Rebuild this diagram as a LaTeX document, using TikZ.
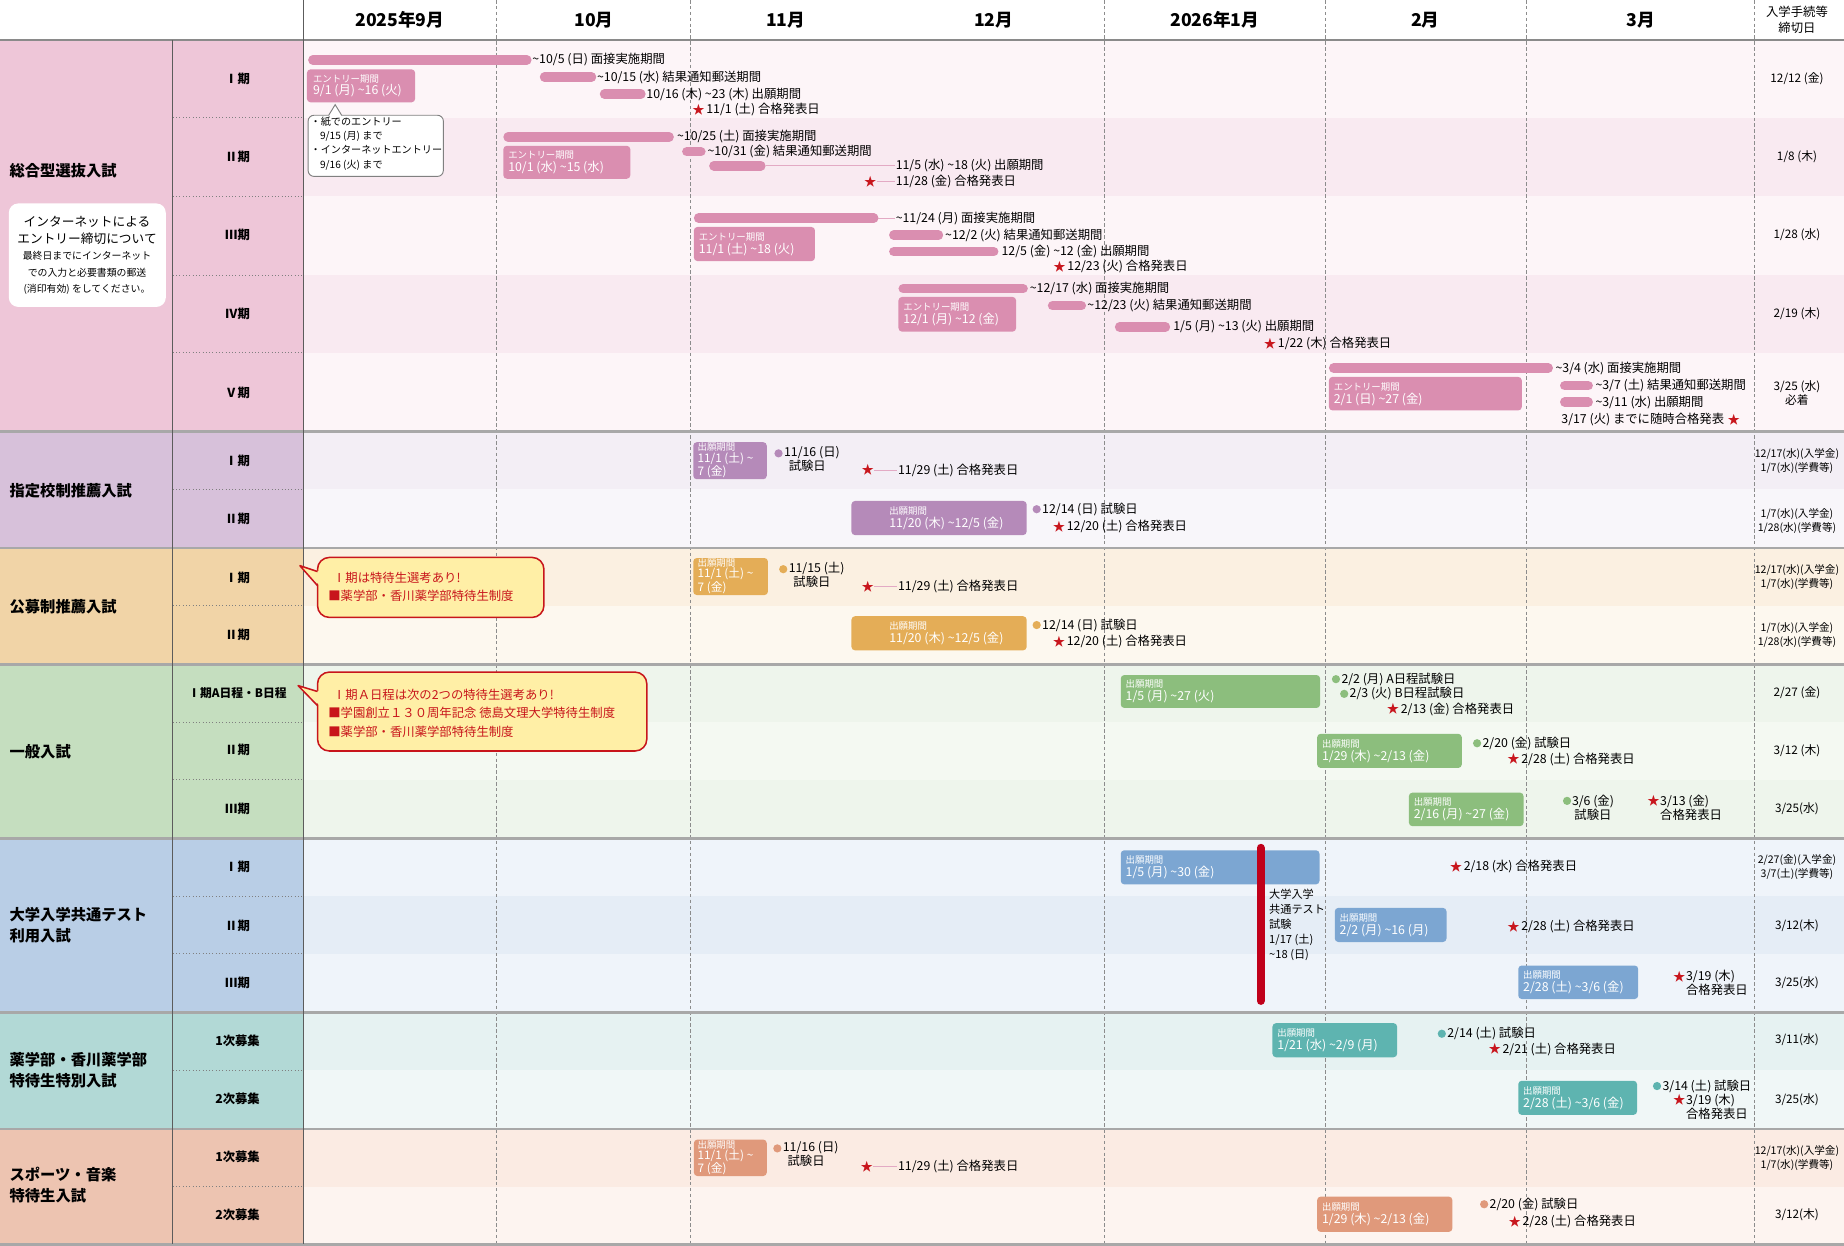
\documentclass[tikz,border=0pt]{standalone}
\usepackage{fontspec}
\setmainfont{Noto Sans CJK JP}
\usetikzlibrary{positioning}

\definecolor{hdgray}{HTML}{8A8A8A}
\definecolor{grpgray}{HTML}{A8A8A8}
\definecolor{vgray}{HTML}{5C5C5C}
\definecolor{dashgray}{HTML}{8C8C8C}
\definecolor{stred}{HTML}{C8161D}
\definecolor{examred}{HTML}{C0001A}
\definecolor{callfill}{HTML}{FFEFA6}
\definecolor{callred}{HTML}{C8151B}
\definecolor{pinkcell}{HTML}{EEC6D8}
\definecolor{pinkbar}{HTML}{DA8EB0}
\definecolor{pinkA}{HTML}{FDF5F8}
\definecolor{pinkB}{HTML}{F9EAF1}
\definecolor{purcell}{HTML}{D7C1DA}
\definecolor{purbar}{HTML}{B58AB9}
\definecolor{purA}{HTML}{F3EEF5}
\definecolor{purB}{HTML}{F8F6FA}
\definecolor{orgcell}{HTML}{F1D4A7}
\definecolor{orgbar}{HTML}{E4AD57}
\definecolor{orgA}{HTML}{FBF0E1}
\definecolor{orgB}{HTML}{FDF8EF}
\definecolor{grncell}{HTML}{C5DEBF}
\definecolor{grnbar}{HTML}{8CBE7D}
\definecolor{grnA}{HTML}{EEF5EC}
\definecolor{grnB}{HTML}{F4F9F2}
\definecolor{blucell}{HTML}{B9CEE6}
\definecolor{blubar}{HTML}{7CA6D2}
\definecolor{bluA}{HTML}{EFF4FA}
\definecolor{bluB}{HTML}{E5EDF6}
\definecolor{tealcell}{HTML}{B2D9D6}
\definecolor{tealbar}{HTML}{5EB4B0}
\definecolor{tealA}{HTML}{E6F2F2}
\definecolor{tealB}{HTML}{F0F7F7}
\definecolor{salcell}{HTML}{EDC4B1}
\definecolor{salbar}{HTML}{E0997B}
\definecolor{salA}{HTML}{FBEBE3}
\definecolor{salB}{HTML}{FDF4F0}

\tikzset{
	lbl/.style={anchor=west, inner sep=0.5pt, font=\fontsize{10.5}{12}\selectfont},
	ddl/.style={align=center, inner sep=0pt, font=\fontsize{10}{12}\selectfont},
	ddl2/.style={align=center, inner sep=0pt, font=\fontsize{9}{12}\selectfont},
	prd/.style={inner sep=0pt, font=\bfseries\fontsize{10.5}{12}\selectfont},
	cat/.style={anchor=west, align=left, inner sep=0pt, font=\bfseries\fontsize{13}{18}\selectfont},
	mon/.style={inner sep=0pt, font=\bfseries\fontsize{15}{17}\selectfont},
	pbar/.style={line width=8pt, line cap=round},
	ebox/.style={rounded corners=3pt},
	btxt/.style={anchor=west, align=left, inner sep=0pt, text=white, font=\fontsize{10.5}{11}\selectfont},
	stxt/.style={anchor=west, align=left, inner sep=0pt, text=white, font=\fontsize{10}{9.5}\selectfont},
	stmark/.style={inner sep=0pt, text=stred, font=\fontsize{10.5}{10}\selectfont},
	conn/.style={draw=pinkbar!75, line width=0.7pt},
	grp/.style={line width=2.5pt, draw=grpgray},
	mdash/.style={draw=dashgray, line width=0.6pt, dash pattern=on 3pt off 2pt},
	pdot/.style={draw=gray, line width=0.8pt, dotted},
	call/.style={draw=callred, line width=1.3pt, fill=callfill, rounded corners=10pt},
	calltxt/.style={anchor=west, inner sep=0pt, text=callred, font=\fontsize{10.5}{12}\selectfont},
}
\newcommand{\bhead}[1]{{\fontsize{8}{9}\selectfont #1}}
\newcommand{\tld}{\textasciitilde}

\begin{document}
\begin{tikzpicture}[x=1pt,y=-1pt]
	\useasboundingbox (0,0) rectangle (1568,1059);
	\fill[white] (0,0) rectangle (1568,1059);

	% row backgrounds
	\foreach \ya/\yb/\col in {34/100/pinkA,100/167/pinkB,167/234/pinkA,234/300/pinkB,300/367/pinkA,
		367/416/purA,416/466/purB,466/515/orgA,515/565/orgB,565/614/grnA,614/663/grnB,663/713/grnA,
		713/762/bluA,762/811/bluB,811/861/bluA,861/910/tealA,910/960/tealB,960/1009/salA,1009/1058/salB}
		\fill[\col] (258,\ya) rectangle (1568,\yb);
	\foreach \ya/\yb/\col in {34/367/pinkcell,367/466/purcell,466/565/orgcell,565/713/grncell,
		713/861/blucell,861/960/tealcell,960/1058/salcell}
		\fill[\col] (0,\ya) rectangle (258,\yb);

	% grid
	\foreach \y in {100,167,234,300,416,515,614,663,762,811,910,1009}
		\draw[pdot] (147,\y) -- (258,\y);
	\foreach \x in {422,587,939,1127,1298,1492}
		\draw[mdash] (\x,0) -- (\x,1058);
	\foreach \y in {367,466,565,713,861,960,1058}
		\draw[grp] (0,\y) -- (1568,\y);
	\draw[line width=2pt, hdgray] (0,34) -- (1568,34);
	\draw[vgray, line width=0.8pt] (258,0) -- (258,1058);
	\draw[vgray, line width=0.8pt] (147,34) -- (147,1058);

	% header
	\node[mon] (m9) at (340,17) {2025年9月};
	\node[mon] (m10) at (505,17) {10月};
	\node[mon] (m11) at (668,17) {11月};
	\node[mon] (m12) at (845,17) {12月};
	\node[mon] (m1) at (1033,17) {2026年1月};
	\node[mon] (m2) at (1212,17) {2月};
	\node[mon] (m3) at (1395,17) {3月};
	\node[ddl, font=\fontsize{10.5}{14}\selectfont] (mend) at (1528,17) {入学手続等\\締切日};

	% categories
	\node[cat] (c1) at (8,145) {総合型選抜入試};
	\node[cat] (c2) at (8,417) {指定校制推薦入試};
	\node[cat] (c3) at (8,516) {公募制推薦入試};
	\node[cat] (c4) at (8,639) {一般入試};
	\node[cat] (c5) at (8,787) {大学入学共通テスト\\利用入試};
	\node[cat] (c6) at (8,910) {薬学部・香川薬学部\\特待生特別入試};
	\node[cat] (c7) at (8,1008) {スポーツ・音楽\\特待生入試};

	\fill[white, rounded corners=8pt] (7.5,173) rectangle (141,261);
	\node[align=center, inner sep=0pt, font=\fontsize{10.8}{15}\selectfont] (net) at (74,196) {インターネットによる\\エントリー締切について};
	\node[align=center, inner sep=0pt, font=\fontsize{8.4}{14}\selectfont] (netb) at (74,232) {最終日までにインターネット\\での入力と必要書類の郵送\\(消印有効) をしてください。};

	% periods
	\node[prd] (p11) at (202,67) {Ⅰ期};
	\node[prd] (p12) at (202,133) {Ⅱ期};
	\node[prd] (p13) at (202,200) {Ⅲ期};
	\node[prd] (p14) at (202,267) {Ⅳ期};
	\node[prd] (p15) at (202,334) {Ⅴ期};
	\node[prd] (p21) at (202,392) {Ⅰ期};
	\node[prd] (p22) at (202,441) {Ⅱ期};
	\node[prd] (p31) at (202,491) {Ⅰ期};
	\node[prd] (p32) at (202,540) {Ⅱ期};
	\node[prd, font=\bfseries\fontsize{10}{12}\selectfont] (p41) at (202,589) {Ⅰ期A日程・B日程};
	\node[prd] (p42) at (202,638) {Ⅱ期};
	\node[prd] (p43) at (202,688) {Ⅲ期};
	\node[prd] (p51) at (202,737) {Ⅰ期};
	\node[prd] (p52) at (202,787) {Ⅱ期};
	\node[prd] (p53) at (202,836) {Ⅲ期};
	\node[prd] (p61) at (202,885) {1次募集};
	\node[prd] (p62) at (202,934) {2次募集};
	\node[prd] (p71) at (202,984) {1次募集};
	\node[prd] (p72) at (202,1033) {2次募集};

	% 総合型 I期
	\draw[pbar, pinkbar] (266,51) -- (448,51);
	\node[lbl] (s1a) at (452,51) {\tld 10/5 (日) 面接実施期間};
	\fill[ebox, pinkbar] (261,59) rectangle (353,87);
	\node[btxt] (s1e) at (266,73) {\bhead{エントリー期間}\\9/1 (月) \tld 16 (火)};
	\draw[pbar, pinkbar] (463,65.5) -- (503,65.5);
	\node[lbl] (s1b) at (507,65.5) {\tld 10/15 (水) 結果通知郵送期間};
	\draw[pbar, pinkbar] (514,80) -- (545,80);
	\node[lbl] (s1c) at (549,80) {10/16 (木) \tld 23 (木) 出願期間};
	\node[stmark] (s1s) at (594,93) {★};
	\node[lbl, right=0.5pt of s1s] (s1t) {11/1 (土) 合格発表日};
	\draw[gray, line width=0.8pt, fill=white, rounded corners=5pt] (262,98) rectangle (377,150);
	\fill[white] (279.5,99.2) -- (285,89) -- (290.5,99.2) -- cycle;
	\draw[gray, line width=0.8pt] (279.5,98) -- (285,89) -- (290.5,98);
	\node[anchor=north west, align=left, inner sep=0pt, font=\fontsize{8.6}{12}\selectfont] (s1n) at (264,99.5)
		{・紙でのエントリー\\\hspace*{8pt}9/15 (月) まで\\・インターネットエントリー\\\hspace*{8pt}9/16 (火) まで};
	\node[ddl] (s1d) at (1528,67) {12/12 (金)};

	% 総合型 II期
	\draw[pbar, pinkbar] (432,116.5) -- (569,116.5);
	\node[lbl] (s2a) at (575,116.5) {\tld 10/25 (土) 面接実施期間};
	\fill[ebox, pinkbar] (428,124) rectangle (536,152);
	\node[btxt] (s2e) at (432,138) {\bhead{エントリー期間}\\10/1 (水) \tld 15 (水)};
	\draw[pbar, pinkbar] (584,129) -- (596,129);
	\node[lbl] (s2b) at (601,129) {\tld 10/31 (金) 結果通知郵送期間};
	\draw[pbar, pinkbar] (607,141) -- (647,141);
	\node[lbl] (s2c) at (761,141) {11/5 (水) \tld 18 (火) 出願期間};
	\draw[conn] (651,141) -- (s2c.west);
	\node[stmark] (s2s) at (740,154.5) {★};
	\node[lbl] (s2t) at (761,154.5) {11/28 (金) 合格発表日};
	\draw[conn] (s2s.east) -- (s2t.west);
	\node[ddl] (s2d) at (1528,133) {1/8 (木)};

	% 総合型 III期
	\draw[pbar, pinkbar] (594,185.5) -- (743,185.5);
	\node[lbl] (s3a) at (761,185.5) {\tld 11/24 (月) 面接実施期間};
	\draw[conn] (747,185.5) -- (s3a.west);
	\fill[ebox, pinkbar] (590,193) rectangle (693,222);
	\node[btxt] (s3e) at (594,207.5) {\bhead{エントリー期間}\\11/1 (土) \tld 18 (火)};
	\draw[pbar, pinkbar] (760,200) -- (798,200);
	\node[lbl] (s3b) at (803,200) {\tld 12/2 (火) 結果通知郵送期間};
	\draw[pbar, pinkbar] (760,214) -- (845,214);
	\node[lbl] (s3c) at (851,214) {12/5 (金) \tld 12 (金) 出願期間};
	\node[stmark] (s3s) at (901,227) {★};
	\node[lbl, right=0.5pt of s3s] (s3t) {12/23 (火) 合格発表日};
	\node[ddl] (s3d) at (1528,200) {1/28 (水)};

	% 総合型 IV期
	\draw[pbar, pinkbar] (768,245.5) -- (870,245.5);
	\node[lbl] (s4a) at (875,245.5) {\tld 12/17 (水) 面接実施期間};
	\fill[ebox, pinkbar] (764,252.5) rectangle (864,282);
	\node[btxt] (s4e) at (768,267) {\bhead{エントリー期間}\\12/1 (月) \tld 12 (金)};
	\draw[pbar, pinkbar] (895,260) -- (919.5,260);
	\node[lbl] (s4b) at (924,260) {\tld 12/23 (火) 結果通知郵送期間};
	\draw[pbar, pinkbar] (952,278) -- (991,278);
	\node[lbl] (s4c) at (997,278) {1/5 (月) \tld 13 (火) 出願期間};
	\node[stmark] (s4s) at (1080,292) {★};
	\node[lbl, right=0.5pt of s4s] (s4t) {1/22 (木) 合格発表日};
	\node[ddl] (s4d) at (1528,267) {2/19 (木)};

	% 総合型 V期
	\draw[pbar, pinkbar] (1134,313) -- (1316.5,313);
	\node[lbl] (s5a) at (1322,313) {\tld 3/4 (水) 面接実施期間};
	\fill[ebox, pinkbar] (1130,320.5) rectangle (1294,349);
	\node[btxt] (s5e) at (1134,335) {\bhead{エントリー期間}\\2/1 (日) \tld 27 (金)};
	\draw[pbar, pinkbar] (1330.5,328) -- (1350.5,328);
	\node[lbl] (s5b) at (1356,328) {\tld 3/7 (土) 結果通知郵送期間};
	\draw[pbar, pinkbar] (1330.5,342) -- (1350.5,342);
	\node[lbl] (s5c) at (1356,342) {\tld 3/11 (水) 出願期間};
	\node[lbl] (s5t) at (1327,357) {3/17 (火) までに随時合格発表};
	\node[stmark, right=2pt of s5t] (s5s) {★};
	\node[ddl] (s5d) at (1528,334) {3/25 (水)\\必着};

	% 指定校制 I期
	\fill[ebox, purbar] (589.5,376) rectangle (652,407.5);
	\node[stxt] (k1e) at (593,391.5) {\bhead{出願期間}\\11/1 (土) \tld\\7 (金)};
	\fill[purbar] (662,385.5) circle (3.5pt);
	\node[lbl, align=left, anchor=north west] (k1a) at (666,379) {11/16 (日)\\\hspace*{4pt}試験日};
	\node[stmark] (k1s) at (738,399.7) {★};
	\node[lbl] (k1t) at (763,399.7) {11/29 (土) 合格発表日};
	\draw[conn] (k1s.east) -- (k1t.west);
	\node[ddl2] (k1d) at (1528,392) {12/17(水)(入学金)\\1/7(水)(学費等)};

	% 指定校制 II期
	\fill[ebox, purbar] (724,426) rectangle (873,455);
	\node[btxt] (k2e) at (756,440.5) {\bhead{出願期間}\\11/20 (木) \tld 12/5 (金)};
	\fill[purbar] (881.5,433) circle (3.5pt);
	\node[lbl] (k2a) at (885.5,433) {12/14 (日) 試験日};
	\node[stmark] (k2s) at (900.5,448) {★};
	\node[lbl, right=0.5pt of k2s] (k2t) {12/20 (土) 合格発表日};
	\node[ddl2] (k2d) at (1528,443) {1/7(水)(入学金)\\1/28(水)(学費等)};

	% 公募制 I期
	\draw[call] (270,474) rectangle (462.5,525);
	\fill[callfill] (272,486) -- (255,481) -- (272,498) -- cycle;
	\draw[callred, line width=1.3pt, line join=round] (270,486) -- (255,481) -- (270,498);
	\node[calltxt] (b1a) at (283,491) {Ⅰ期は特待生選考あり!};
	\node[calltxt] (b1b) at (279,507) {■薬学部・香川薬学部特待生制度};
	\fill[ebox, orgbar] (589.5,474.5) rectangle (653,506);
	\node[stxt] (b1e) at (593,490) {\bhead{出願期間}\\11/1 (土) \tld\\7 (金)};
	\fill[orgbar] (666,484) circle (3.5pt);
	\node[lbl, align=left, anchor=north west] (b1x) at (670,477.5) {11/15 (土)\\\hspace*{4pt}試験日};
	\node[stmark] (b1s) at (738,499) {★};
	\node[lbl] (b1t) at (763,499) {11/29 (土) 合格発表日};
	\draw[conn] (b1s.east) -- (b1t.west);
	\node[ddl2] (b1d) at (1528,491) {12/17(水)(入学金)\\1/7(水)(学費等)};

	% 公募制 II期
	\fill[ebox, orgbar] (724,524) rectangle (873,553);
	\node[btxt] (b2e) at (756,538.5) {\bhead{出願期間}\\11/20 (木) \tld 12/5 (金)};
	\fill[orgbar] (881.5,531.5) circle (3.5pt);
	\node[lbl] (b2a) at (885.5,531.5) {12/14 (日) 試験日};
	\node[stmark] (b2s) at (900.5,545.5) {★};
	\node[lbl, right=0.5pt of b2s] (b2t) {12/20 (土) 合格発表日};
	\node[ddl2] (b2d) at (1528,540) {1/7(水)(入学金)\\1/28(水)(学費等)};

	% 一般 I期
	\draw[call] (270,571.5) rectangle (550,638.6);
	\fill[callfill] (272,588) -- (253.5,583) -- (272,600) -- cycle;
	\draw[callred, line width=1.3pt, line join=round] (270,588) -- (253.5,583) -- (270,600);
	\node[calltxt] (g1a) at (283,591) {Ⅰ期Ａ日程は次の2つの特待生選考あり!};
	\node[calltxt] (g1b) at (279,606.5) {■学園創立１３０周年記念 徳島文理大学特待生制度};
	\node[calltxt] (g1c) at (279,622) {■薬学部・香川薬学部特待生制度};
	\fill[ebox, grnbar] (953,574) rectangle (1122.5,602);
	\node[btxt] (g1e) at (957,588) {\bhead{出願期間}\\1/5 (月) \tld 27 (火)};
	\fill[grnbar] (1136,577.5) circle (3.5pt);
	\node[lbl] (g1x) at (1140,577.5) {2/2 (月) A日程試験日};
	\fill[grnbar] (1143,590) circle (3.5pt);
	\node[lbl] (g1y) at (1147,590) {2/3 (火) B日程試験日};
	\node[stmark] (g1s) at (1184.5,603) {★};
	\node[lbl, right=0.5pt of g1s] (g1t) {2/13 (金) 合格発表日};
	\node[ddl] (g1d) at (1528,589) {2/27 (金)};

	% 一般 II期
	\fill[ebox, grnbar] (1120,624) rectangle (1243,653);
	\node[btxt] (g2e) at (1124,638.5) {\bhead{出願期間}\\1/29 (木) \tld 2/13 (金)};
	\fill[grnbar] (1256,632) circle (3.5pt);
	\node[lbl] (g2a) at (1260,632) {2/20 (金) 試験日};
	\node[stmark] (g2s) at (1287,645.5) {★};
	\node[lbl, right=0.5pt of g2s] (g2t) {2/28 (土) 合格発表日};
	\node[ddl] (g2d) at (1528,638) {3/12 (木)};

	% 一般 III期
	\fill[ebox, grnbar] (1198,674) rectangle (1295.5,702.5);
	\node[btxt] (g3e) at (1202,688) {\bhead{出願期間}\\2/16 (月) \tld 27 (金)};
	\fill[grnbar] (1332.5,681) circle (3.5pt);
	\node[lbl, align=center, anchor=north west] (g3a) at (1336,675) {3/6 (金)\\試験日};
	\node[stmark] (g3s) at (1406,681) {★};
	\node[lbl, align=left, anchor=north west] (g3t) at (1411,675) {3/13 (金)\\合格発表日};
	\node[ddl] (g3d) at (1528,688) {3/25(水)};

	% 共通テスト I期
	\fill[ebox, blubar] (953,723) rectangle (1122,752);
	\node[btxt] (t1e) at (957,737.5) {\bhead{出願期間}\\1/5 (月) \tld 30 (金)};
	\draw[examred, line width=7pt, line cap=round] (1072,721) -- (1072,851);
	\node[anchor=north west, align=left, inner sep=0pt, font=\fontsize{9.5}{12.6}\selectfont] (tex) at (1079,756)
		{大学入学\\共通テスト\\試験\\1/17 (土)\\\tld 18 (日)};
	\node[stmark] (t1s) at (1238,737) {★};
	\node[lbl, right=0.5pt of t1s] (t1t) {2/18 (水) 合格発表日};
	\node[ddl2] (t1d) at (1528,737) {2/27(金)(入学金)\\3/7(土)(学費等)};

	% 共通テスト II期
	\fill[ebox, blubar] (1135,772) rectangle (1230,801);
	\node[btxt] (t2e) at (1139,786.5) {\bhead{出願期間}\\2/2 (月) \tld 16 (月)};
	\node[stmark] (t2s) at (1287,788) {★};
	\node[lbl, right=0.5pt of t2s] (t2t) {2/28 (土) 合格発表日};
	\node[ddl] (t2d) at (1528,787) {3/12(木)};

	% 共通テスト III期
	\fill[ebox, blubar] (1291,821) rectangle (1393,849.5);
	\node[btxt] (t3e) at (1295,835) {\bhead{出願期間}\\2/28 (土) \tld 3/6 (金)};
	\node[stmark] (t3s) at (1428,830.5) {★};
	\node[lbl, align=left, anchor=north west] (t3t) at (1433,824.5) {3/19 (木)\\合格発表日};
	\node[ddl] (t3d) at (1528,836) {3/25(水)};

	% 薬学部 1次
	\fill[ebox, tealbar] (1082,870) rectangle (1188,899);
	\node[btxt] (y1e) at (1086,884.5) {\bhead{出願期間}\\1/21 (水) \tld 2/9 (月)};
	\fill[tealbar] (1226,879) circle (3.5pt);
	\node[lbl] (y1a) at (1230,879) {2/14 (土) 試験日};
	\node[stmark] (y1s) at (1271,892) {★};
	\node[lbl, right=0.5pt of y1s] (y1t) {2/21 (土) 合格発表日};
	\node[ddl] (y1d) at (1528,884) {3/11(水)};

	% 薬学部 2次
	\fill[ebox, tealbar] (1291,919) rectangle (1392,948);
	\node[btxt] (y2e) at (1295,933.5) {\bhead{出願期間}\\2/28 (土) \tld 3/6 (金)};
	\fill[tealbar] (1409,923.5) circle (3.5pt);
	\node[lbl] (y2a) at (1413,923.5) {3/14 (土) 試験日};
	\node[stmark] (y2s) at (1428,935.5) {★};
	\node[lbl, align=left, anchor=north west] (y2t) at (1433,929.5) {3/19 (木)\\合格発表日};
	\node[ddl] (y2d) at (1528,935) {3/25(水)};

	% スポーツ 1次
	\fill[ebox, salbar] (590,969) rectangle (652,1000);
	\node[stxt] (a1e) at (593,984.5) {\bhead{出願期間}\\11/1 (土) \tld\\7 (金)};
	\fill[salbar] (661,976.5) circle (3.5pt);
	\node[lbl, align=left, anchor=north west] (a1a) at (665,970) {11/16 (日)\\\hspace*{4pt}試験日};
	\node[stmark] (a1s) at (737,992) {★};
	\node[lbl] (a1t) at (763,992) {11/29 (土) 合格発表日};
	\draw[conn] (a1s.east) -- (a1t.west);
	\node[ddl2] (a1d) at (1528,985) {12/17(水)(入学金)\\1/7(水)(学費等)};

	% スポーツ 2次
	\fill[ebox, salbar] (1120,1017.5) rectangle (1235,1047.5);
	\node[btxt] (a2e) at (1124,1032.5) {\bhead{出願期間}\\1/29 (木) \tld 2/13 (金)};
	\fill[salbar] (1262,1024) circle (3.5pt);
	\node[lbl] (a2a) at (1266,1024) {2/20 (金) 試験日};
	\node[stmark] (a2s) at (1288,1039) {★};
	\node[lbl, right=0.5pt of a2s] (a2t) {2/28 (土) 合格発表日};
	\node[ddl] (a2d) at (1528,1033) {3/12(木)};
\end{tikzpicture}
\end{document}
